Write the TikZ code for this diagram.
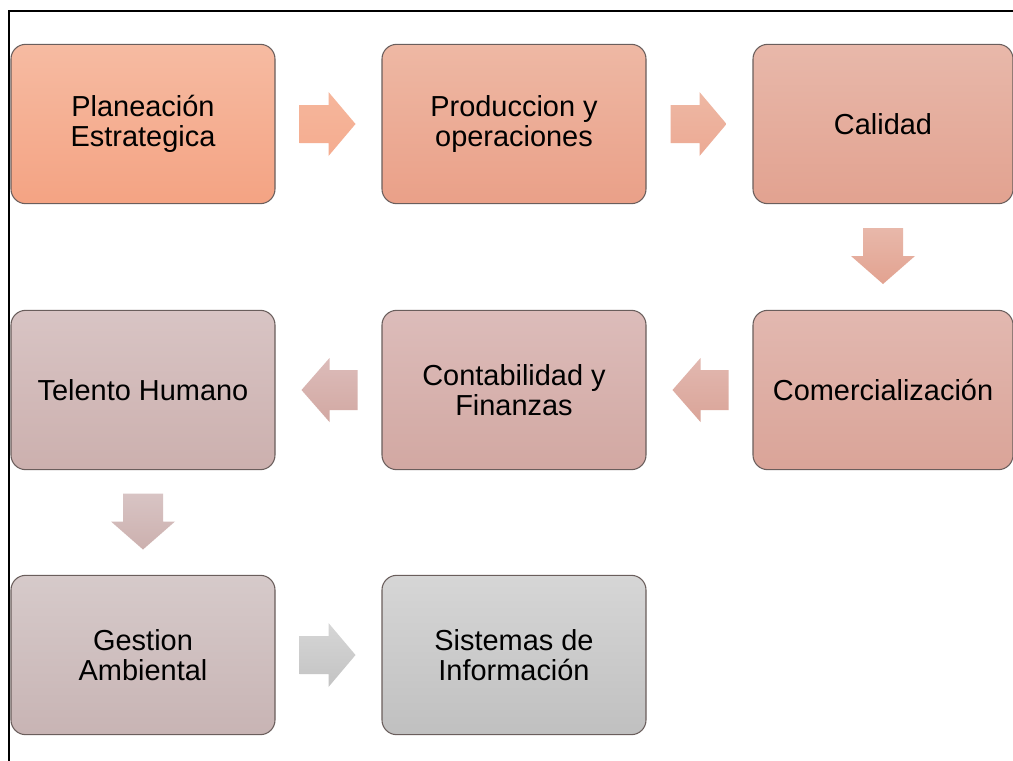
\documentclass[tikz,border=0pt]{standalone}
\usepackage{fontspec}
\setmainfont{Liberation Sans}
\usetikzlibrary{calc}
\definecolor{cAt}{HTML}{F6BBA2}\definecolor{cAb}{HTML}{F4A383}
\definecolor{cBt}{HTML}{EEB8A4}\definecolor{cBb}{HTML}{EAA088}
\definecolor{cCt}{HTML}{E8B8AA}\definecolor{cCb}{HTML}{E2A290}
\definecolor{cDt}{HTML}{E2B8B0}\definecolor{cDb}{HTML}{DAA498}
\definecolor{cEt}{HTML}{DCBCBA}\definecolor{cEb}{HTML}{D2A8A2}
\definecolor{cFt}{HTML}{D8C4C4}\definecolor{cFb}{HTML}{CCB0AE}
\definecolor{cGt}{HTML}{D6CACA}\definecolor{cGb}{HTML}{C8B4B4}
\definecolor{cHt}{HTML}{D6D6D6}\definecolor{cHb}{HTML}{C0C0C0}
\definecolor{boxline}{HTML}{6A5E5C}
\tikzset{
  blk/.style={draw=boxline, line width=0.8pt, rounded corners=11pt,
    minimum width=198pt, minimum height=119.5pt, inner sep=0pt,
    align=center, font=\fontsize{21.7}{22.5}\selectfont},
  blkw/.style={blk, minimum width=195pt},
}
\begin{document}
\begin{tikzpicture}[x=0.75pt,y=-0.75pt]
\useasboundingbox (0,0) rectangle (1013,760);
\clip (0,0) rectangle (1013,760);
\fill[white] (0,0) rectangle (1013,760);
\draw[line width=1.1pt] (9,11) rectangle (1040,790);
% boxes
\node[blk, top color=cAt, bottom color=cAb] (n1) at (143,124) {Planeación\\Estrategica};
\node[blk, top color=cBt, bottom color=cBb] (n2) at (514,124) {Produccion y\\operaciones};
\node[blkw, top color=cCt, bottom color=cCb] (n3) at (883,124) {Calidad};
\node[blkw, top color=cDt, bottom color=cDb] (n4) at (883,390) {Comercialización};
\node[blk, top color=cEt, bottom color=cEb] (n5) at (514,390) {Contabilidad y\\Finanzas};
\node[blk, top color=cFt, bottom color=cFb] (n6) at (143,390) {Telento Humano};
\node[blk, top color=cGt, bottom color=cGb] (n7) at (143,655) {Gestion\\Ambiental};
\node[blk, top color=cHt, bottom color=cHb] (n8) at (514,655) {Sistemas de\\Información};
% arrows
\begin{scope}[shift={($(n1.east)!0.5!(n2.west)$)}]
\shade[top color=cAt!80!cAb, bottom color=cAb!90!white] (-29,-19) -- (0,-19) -- (0,-32) -- (27,0) -- (0,32) -- (0,19) -- (-29,19) -- cycle;
\end{scope}
\begin{scope}[shift={($(n2.east)!0.5!(n3.west)$)}]
\shade[top color=cBt, bottom color=cBb!90!white] (-29,-19) -- (0,-19) -- (0,-32) -- (27,0) -- (0,32) -- (0,19) -- (-29,19) -- cycle;
\end{scope}
\begin{scope}[shift={($(n3.south)!0.5!(n4.north)$)}]
\shade[top color=cCt, bottom color=cCb] (-20,-29) -- (20,-29) -- (20,-1) -- (32,-1) -- (0,27) -- (-32,-1) -- (-20,-1) -- cycle;
\end{scope}
\begin{scope}[shift={($(n4.west)!0.5!(n5.east)$)}]
\shade[top color=cDt, bottom color=cDb] (29,-20) -- (1,-20) -- (1,-32) -- (-27,0) -- (1,32) -- (1,20) -- (29,20) -- cycle;
\end{scope}
\begin{scope}[shift={($(n5.west)!0.5!(n6.east)$)}]
\shade[top color=cEt, bottom color=cEb] (29,-20) -- (1,-20) -- (1,-32) -- (-27,0) -- (1,32) -- (1,20) -- (29,20) -- cycle;
\end{scope}
\begin{scope}[shift={($(n6.south)!0.5!(n7.north)$)}]
\shade[top color=cFt, bottom color=cFb] (-20,-29) -- (20,-29) -- (20,-1) -- (32,-1) -- (0,27) -- (-32,-1) -- (-20,-1) -- cycle;
\end{scope}
\begin{scope}[shift={($(n7.east)!0.5!(n8.west)$)}]
\shade[top color=cHt, bottom color=cHb!95!white] (-29,-19) -- (0,-19) -- (0,-32) -- (27,0) -- (0,32) -- (0,19) -- (-29,19) -- cycle;
\end{scope}
\end{tikzpicture}
\end{document}
